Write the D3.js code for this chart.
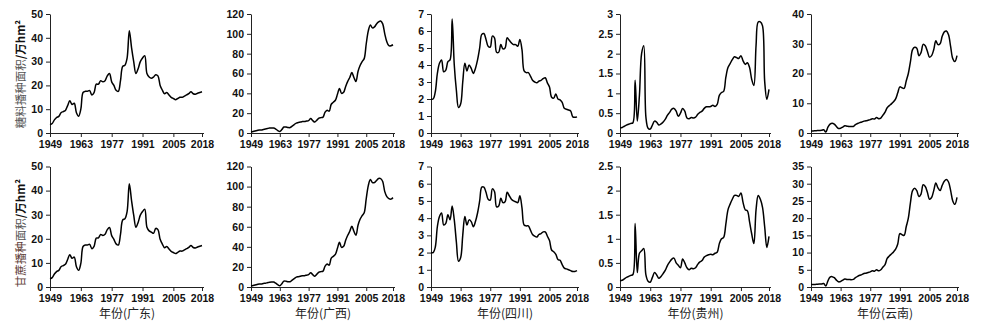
<!DOCTYPE html>
<html>
<head>
<meta charset="utf-8">
<script src="https://cdn.jsdelivr.net/npm/d3@7"></script>
<style>
  body { margin: 0; background: #fff; }
  .tick text { font-family: "Liberation Sans", Arial, sans-serif; font-weight: bold; font-size: 10.5px; fill: #111; }
  .domain, .tick line { stroke: #222; }
</style>
</head>
<body>
<div id="chart-area"></div>
<script>
// sown area of sugar crops (top row) and sugarcane (bottom row), 万hm², 1949-2018
const years = d3.range(1949, 2019)
const yearTicks = [1949, 1963, 1977, 1991, 2005, 2018]
const regions = ["广东", "广西", "四川", "贵州", "云南"]

const gdSugar = [3.5,4,5.5,6.5,7,8.5,9,9.5,11.5,13.5,
  12,12.5,8.5,7,10,17,17.5,17.5,17.8,16,
  17,20.5,20.5,22,21.5,22,24,25,21.5,20,
  18,17.5,22,28,28.5,31.5,43,36,30,25,
  27,30,31.5,32.5,25,23.5,23,23.5,24.5,24,
  20,18,16.5,17,16,15,14.5,14,14.5,15,
  15,15.5,16,16.5,17.3,16.5,16.3,16.7,17,17.3]
const gdCane = [3.4,3.9,5.4,6.4,6.9,8.4,8.9,9.4,11.4,13.4,
  11.9,12.4,8.4,6.9,9.8,16.8,17.4,17.4,17.7,15.9,
  16.9,20.3,20.4,21.8,21.4,21.9,23.8,24.7,21.3,19.8,
  17.9,17.4,21.8,27.8,28.3,31.3,42.8,36,29.8,24.8,
  26.8,29.8,31.3,32.3,24.8,23.3,22.8,22.3,24.3,23.8,
  19.8,17.8,16.3,16.8,15.8,14.8,14.3,13.9,14.4,14.9,
  14.9,15.4,15.9,16.4,17.2,16.4,16.2,16.6,16.9,17.2]

const gxSugar = [1,1.5,2,2.5,3,3,3.5,4,4.5,5,
  5,5,4,2.5,1.5,3.5,6,6,5.5,5.5,
  7,8.5,10,10.5,11,11.5,11.5,12,12.5,14.5,
  12.5,11,13,15,15.5,16,21,23,22,29,
  31,33,39,45,40,41,47,52,56,61,
  56,52,62,68,72,75,90,103,109,106,
  107,110,112,113,110,100,92,88,88,89]
const gxCane = [1,1.5,2,2.5,3,3,3.5,3.8,4.3,4.8,
  5,5,3.8,2.3,1.3,3.3,5.8,5.8,5.3,5.3,
  6.8,8.3,9.8,10.3,10.8,11.3,11.3,11.8,12.3,14.3,
  12.3,10.8,12.8,14.8,15.3,15.8,20.8,22.8,21.8,28.8,
  30.5,32.5,38.5,44.5,39.5,40.5,46.5,51.5,55.5,60.5,
  55.5,51.5,61.5,67.5,71,74,88,101,107,104,
  104,106,108,108,105,95,90,88,87.5,89]

const scSugar = [2.0,2.0,2.4,3.5,4.1,4.3,3.6,3.7,4.2,4.3,
  6.7,4.0,2.5,1.5,1.7,3.0,4.1,3.65,4.0,3.8,
  3.5,3.8,4.3,5.0,5.8,5.85,5.5,5.1,5.05,5.7,
  5.6,4.75,4.75,5.2,4.95,5.0,5.6,5.45,5.3,5.2,
  5.2,5.1,5.5,4.9,3.65,3.55,3.55,3.35,3.1,3.0,
  2.95,3.05,3.1,3.2,3.25,2.95,2.7,2.1,2.05,2.3,
  2.0,1.95,1.8,1.45,1.4,1.35,1.3,0.95,0.92,0.95]
const scCane = [2.0,2.0,2.3,3.5,4.1,4.3,3.6,3.7,4.2,3.9,
  4.7,3.9,2.6,1.5,1.7,3.0,4.1,3.6,3.9,3.8,
  3.5,3.8,4.3,5.0,5.8,5.8,5.5,5.1,5.05,5.7,
  5.55,4.65,4.7,5.15,4.9,4.95,5.5,5.3,5.1,5.0,
  4.95,4.9,5.3,4.6,3.6,3.55,3.55,3.3,3.05,2.95,
  2.9,3.05,3.1,3.2,3.2,2.95,2.7,2.15,2.05,1.9,
  1.6,1.55,1.3,1.1,1.05,1.0,0.95,0.9,0.9,0.95]

const gzSugar = [0.13,0.14,0.17,0.2,0.22,0.24,0.26,1.33,0.3,0.95,
  2.0,2.2,0.4,0.12,0.1,0.2,0.3,0.27,0.2,0.23,
  0.28,0.35,0.45,0.52,0.6,0.62,0.55,0.42,0.5,0.62,
  0.55,0.38,0.36,0.39,0.38,0.4,0.47,0.52,0.55,0.62,
  0.66,0.66,0.67,0.7,0.67,0.72,0.95,1.02,1.05,1.4,
  1.65,1.75,1.85,1.92,1.9,1.88,1.95,1.82,1.73,1.77,
  1.65,1.35,1.2,2.2,2.8,2.8,2.7,1.3,0.85,1.1]
const gzCane = [0.13,0.14,0.17,0.2,0.22,0.24,0.26,1.32,0.3,0.7,
  0.75,0.8,0.25,0.12,0.1,0.2,0.3,0.25,0.18,0.22,
  0.28,0.35,0.45,0.52,0.58,0.6,0.5,0.45,0.4,0.58,
  0.5,0.4,0.36,0.39,0.38,0.4,0.47,0.52,0.55,0.62,
  0.65,0.67,0.68,0.67,0.7,0.72,0.9,1.0,1.03,1.3,
  1.6,1.72,1.82,1.9,1.9,1.88,1.95,1.75,1.6,1.58,
  1.35,1.1,0.9,1.6,1.9,1.82,1.65,1.25,0.82,1.05]

const ynSugar = [0.7,0.7,0.75,0.8,0.85,0.9,1.1,0.3,2.0,3.0,
  3.3,3.0,2.2,1.5,1.6,2.0,2.4,2.3,2.2,2.2,
  2.2,2.8,3.2,3.5,3.7,4.0,4.1,4.3,4.5,4.8,
  4.7,5.2,4.8,5.0,6.0,7.0,8.5,9.2,9.8,10.5,
  11.5,13.5,15.5,15.2,15.0,17.5,20.0,24.0,28.0,28.8,
  28.5,26.0,27.0,29.8,29.3,27.5,25.5,26.0,28.0,31.0,
  29.7,30.0,32.5,34.0,34.3,33.0,29.0,25.0,24.0,26.0]
const ynCane = [0.7,0.7,0.75,0.8,0.85,0.9,1.0,0.3,1.8,2.9,
  3.0,2.7,2.0,1.5,1.6,2.0,2.3,2.2,2.2,2.1,
  2.2,2.7,3.1,3.4,3.6,3.9,4.0,4.2,4.4,4.7,
  4.6,5.0,4.7,5.0,5.8,6.5,8.3,9.0,9.6,10.2,
  11.0,12.5,15.5,15.2,15.0,17.5,20.0,24.5,28.0,28.7,
  28.0,26.3,27.0,29.7,29.2,27.5,25.5,26.0,28.0,30.2,
  28.8,28.0,29.5,30.7,31.2,30.5,28.0,25.0,24.0,26.0]

const sugarTicks = [[0,10,20,30,40,50], [0,20,40,60,80,100,120], [0,1,2,3,4,5,6,7],
  [0,0.5,1,1.5,2,2.5,3], [0,10,20,30,40]]
const caneTicks = [[0,10,20,30,40,50], [0,20,40,60,80,100,120], [0,1,2,3,4,5,6,7],
  [0,0.5,1,1.5,2,2.5], [0,5,10,15,20,25,30,35]]

const colLeft = [50, 251, 431, 620, 811]
const colRight = [204, 395, 579, 771, 959]

const rows = [
  { top: 14, bottom: 133, series: [gdSugar, gxSugar, scSugar, gzSugar, ynSugar], ticks: sugarTicks },
  { top: 166.5, bottom: 287, series: [gdCane, gxCane, scCane, gzCane, ynCane], ticks: caneTicks }
]

const svg = d3.select("#chart-area").append("svg")
    .attr("width", 990)
    .attr("height", 328)

rows.forEach(function(row, r){
  regions.forEach(function(name, c){
    const x = d3.scaleLinear()
        .domain([1949, 2018])
        .range([colLeft[c], colRight[c] - 2])
    const ticks = row.ticks[c]
    const y = d3.scaleLinear()
        .domain([0, d3.max(ticks)])
        .range([row.bottom, row.top])

    const g = svg.append("g")

    const xAxis = g.append("g")
        .attr("transform", "translate(0," + row.bottom + ")")
        .call(d3.axisBottom(x).tickValues(yearTicks).tickFormat(d3.format("d"))
          .tickSize(4).tickSizeOuter(0).tickPadding(4))
    // let the axis line run a little past the last year
    xAxis.select(".domain").attr("d", "M" + colLeft[c] + ",0.5H" + colRight[c])

    g.append("g")
        .attr("transform", "translate(" + colLeft[c] + ",0)")
        .call(d3.axisLeft(y).tickValues(ticks).tickFormat(function(d){ return String(d) })
          .tickSize(4).tickSizeOuter(0).tickPadding(3))

    const line = d3.line()
        .x(function(d, i){ return x(years[i]) })
        .y(function(d){ return y(d) })
        .curve(d3.curveCatmullRom.alpha(0.5))

    g.append("path")
        .datum(row.series[c])
        .attr("fill", "none")
        .attr("stroke", "#000")
        .attr("stroke-width", 1.5)
        .attr("stroke-linejoin", "round")
        .attr("d", line)

    if (r === 1) {
      g.append("text")
          .attr("x", (colLeft[c] + colRight[c]) / 2)
          .attr("y", 318)
          .attr("text-anchor", "middle")
          .style("font-family", '"Noto Sans CJK SC", sans-serif')
          .style("font-size", "12px")
          .attr("fill", "#222")
          .text("年份(" + name + ")")
    }
  })
})

// y axis titles, drawn vertically
function yTitle(parts, cy) {
  const t = svg.append("text")
      .attr("transform", "translate(21," + cy + ") rotate(-90)")
      .attr("text-anchor", "middle")
      .attr("dy", "0.35em")
      .style("font-family", '"Noto Sans CJK SC", sans-serif')
      .style("font-size", "11.5px")
  parts.forEach(function(p){
    t.append("tspan")
        .attr("fill", p[1])
        .attr("font-weight", p[2] || "normal")
        .text(p[0])
  })
}
yTitle([["糖料播种面积", "#555"], ["/万hm²", "#111", "bold"]], 74)
yTitle([["甘蔗播种", "#5e3d36"], ["面积", "#555"], ["/万hm²", "#111", "bold"]], 233)
</script>
</body>
</html>
